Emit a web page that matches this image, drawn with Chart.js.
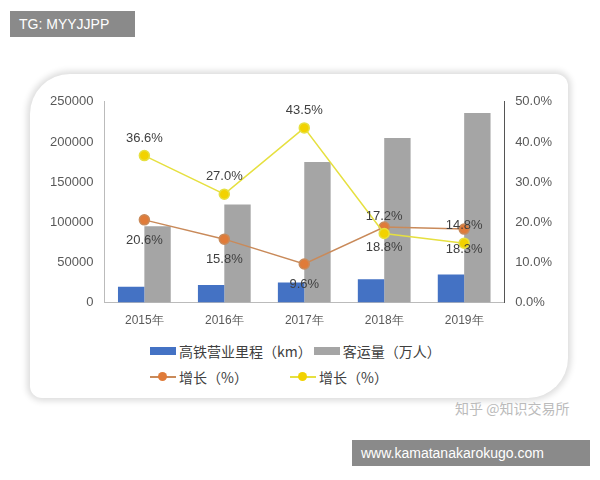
<!DOCTYPE html>
<html><head><meta charset="utf-8">
<script src="https://cdn.jsdelivr.net/npm/chart.js@4"></script>
<style>
body{margin:0;width:600px;height:480px;background:#fff;position:relative;overflow:hidden;font-family:"Noto Sans CJK SC",sans-serif}
#card{position:absolute;left:30px;top:74px;width:538px;height:324px;border-radius:40px 12px 40px 12px;box-shadow:0 0 6px 3px #ddd;background:#fff}
#wrap{position:absolute;left:47px;top:91px;width:508px;height:240px}
.tag{position:absolute;background:#8a8a8a;color:#fff;font-size:14px;font-family:"Liberation Sans",sans-serif;padding:5px 9px}
#wm{position:absolute;left:455px;top:398px;color:#bbb;font-size:14px}
.lg{position:absolute;font-size:14px;color:#404040;display:flex;align-items:center;white-space:nowrap}
.sw{display:inline-block;width:26px;height:8px;margin-right:3px}
.ln{display:inline-block;width:26px;height:1.5px;margin-right:3px;position:relative}
.ln i{position:absolute;left:8px;top:-4px;width:9px;height:9px;border-radius:50%}
</style></head><body>
<div id="card"></div>
<div id="wrap"><canvas id="c"></canvas></div>
<div class="lg" style="left:150px;top:341px"><span class="sw" style="background:#4472c4"></span>高铁营业里程（km）<span class="sw" style="background:#a5a5a5;margin-left:2px"></span>客运量（万人）</div>
<div class="lg" style="left:150px;top:367px"><span class="ln" style="background:#c98a5a"><i style="background:#e07b39"></i></span>增长（%）</div>
<div class="lg" style="left:290px;top:367px"><span class="ln" style="background:#e6e040"><i style="background:#f2d200"></i></span>增长（%）</div>
<div class="tag" style="left:10px;top:11px;width:107px">TG: MYYJJPP</div>
<div id="wm">知乎 @知识交易所</div>
<div class="tag" style="left:352px;top:440px;width:220px">www.kamatanakarokugo.com</div>
<script>
const years = ["2015年", "2016年", "2017年", "2018年", "2019年"];
const mileage = [19800, 22000, 25000, 29000, 35000];
const passengers = [95000, 122000, 175000, 205000, 236000];
const mileageGrowth = [20.6, 15.8, 9.6, 18.8, 18.3];
const passengerGrowth = [36.6, 27.0, 43.5, 17.2, 14.8];

const labelPlugin = {
  id: "labels",
  afterDatasetsDraw(chart) {
    const ctx = chart.ctx;
    ctx.save();
    ctx.font = "13px 'Liberation Sans', sans-serif";
    ctx.fillStyle = "#404040";
    ctx.textAlign = "center";
    [[2, 24], [3, -14]].forEach(([di, dy]) => {
      const ds = chart.data.datasets[di];
      chart.getDatasetMeta(di).data.forEach((p, i) => {
        ctx.fillText(ds.data[i].toFixed(1) + "%", p.x, p.y + dy);
      });
    });
    ctx.restore();
  }
};

new Chart(document.getElementById("c"), {
  data: {
    labels: years,
    datasets: [
      { type: "bar", label: "高铁营业里程（km）", data: mileage, backgroundColor: "#4472c4", yAxisID: "y", order: 3, barPercentage: 1, categoryPercentage: 0.66 },
      { type: "bar", label: "客运量（万人）", data: passengers, backgroundColor: "#a5a5a5", yAxisID: "y", order: 3, barPercentage: 1, categoryPercentage: 0.66 },
      { type: "line", label: "增长（%）", data: mileageGrowth, borderColor: "#c98a5a", backgroundColor: "#e07b39", borderWidth: 1.5, pointRadius: 5, yAxisID: "y1", order: 1 },
      { type: "line", label: "增长（%）", data: passengerGrowth, borderColor: "#e6e040", backgroundColor: "#f2d200", borderWidth: 1.5, pointRadius: 5, yAxisID: "y1", order: 0 }
    ]
  },
  options: {
    responsive: true, maintainAspectRatio: false, animation: false,
    layout: { padding: { left: 0, right: 0, top: 8 } },
    plugins: { legend: { display: false }, tooltip: { enabled: false } },
    scales: {
      x: { grid: { display: false }, border: { color: "#bbb" }, ticks: { color: "#595959", font: { size: 12 } } },
      y: { min: 0, max: 250000, ticks: { stepSize: 50000, color: "#595959", font: { size: 13 }, callback: v => String(v) }, grid: { display: false }, border: { color: "#bbb" } },
      y1: { position: "right", min: 0, max: 50, ticks: { stepSize: 10, color: "#595959", font: { size: 13 }, callback: v => v.toFixed(1) + "%" }, grid: { display: false }, border: { color: "#555" } }
    }
  },
  plugins: [labelPlugin]
});
</script>
</body></html>
